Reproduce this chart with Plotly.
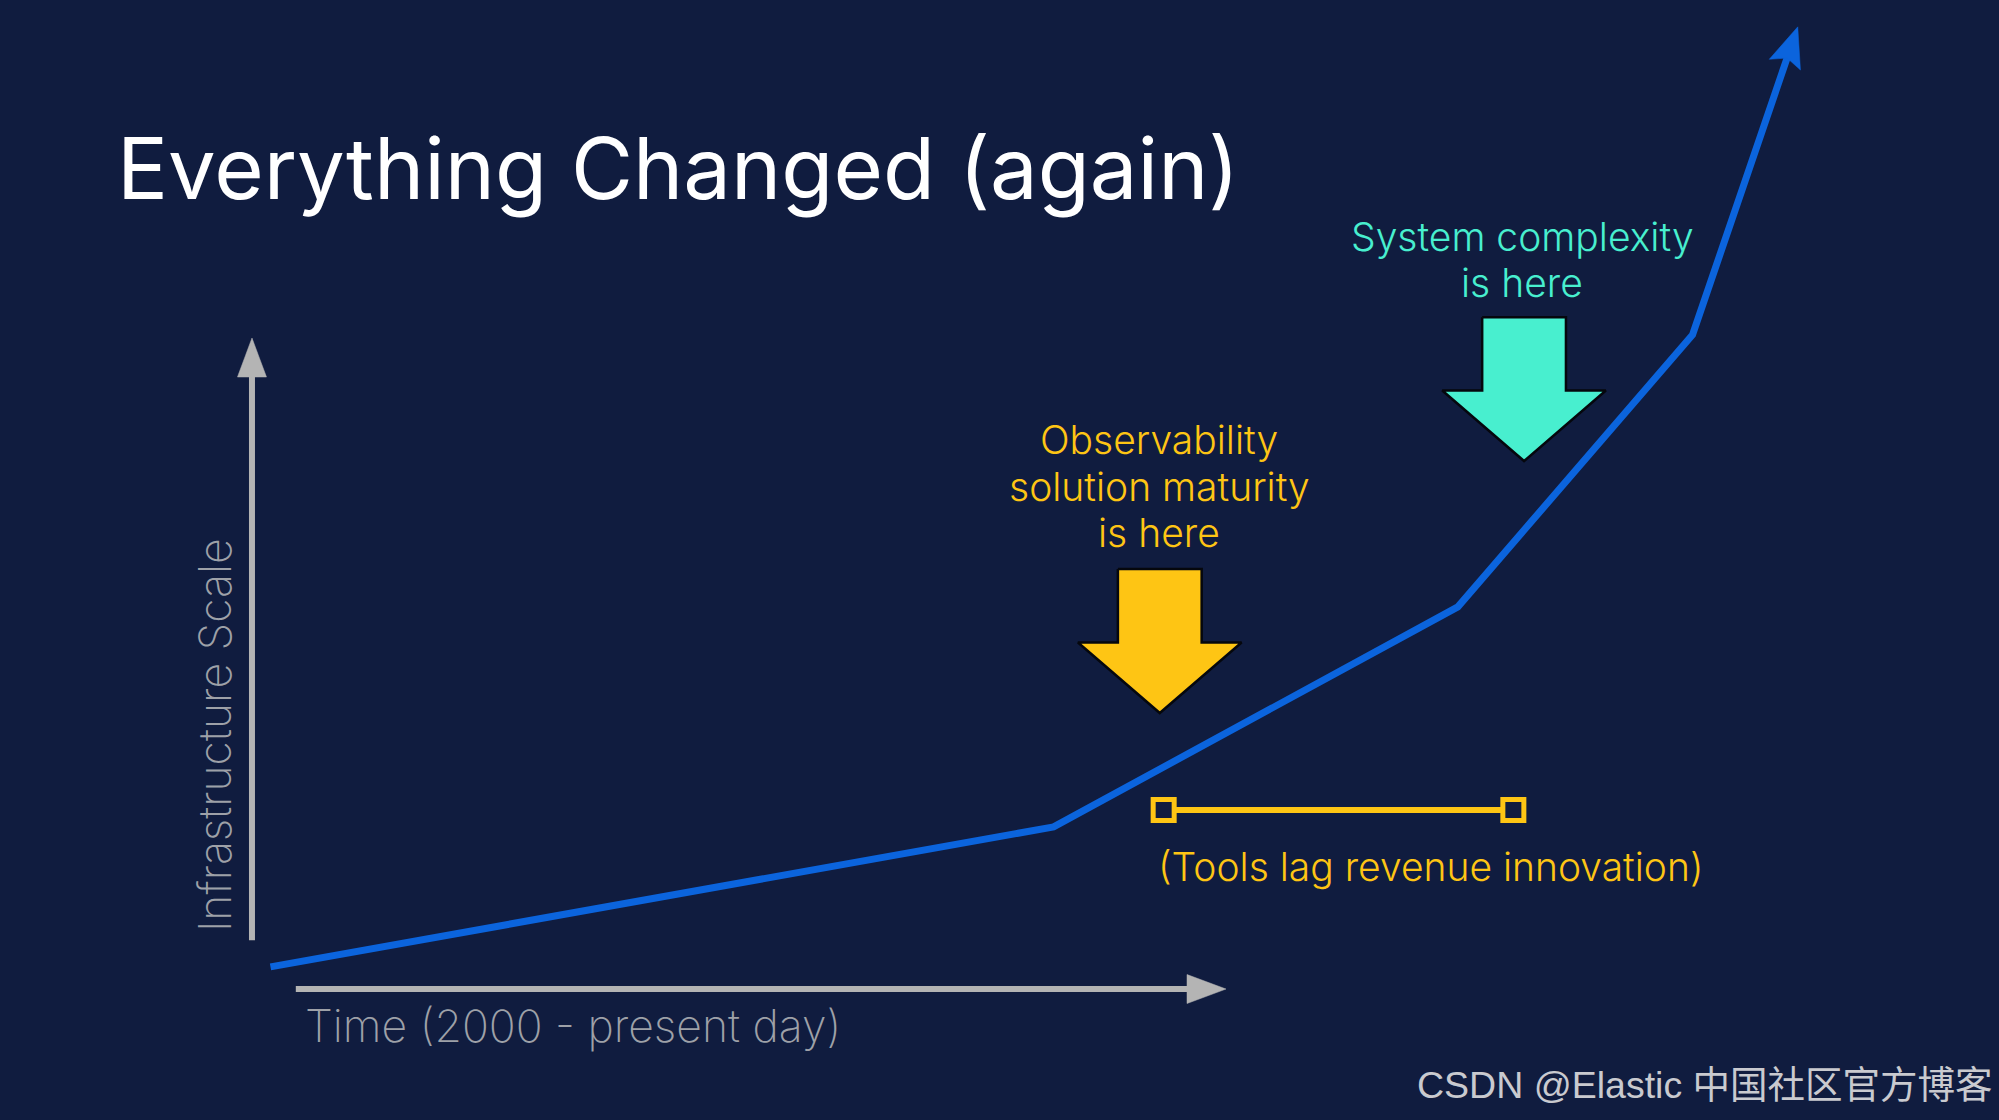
import math
import plotly.graph_objects as go

W, H = 1999, 1120
BG = "#101C3F"
BLUE = "#0B64DD"
YELLOW = "#FEC514"
TEAL = "#48EFCF"
AXIS = "#B4B4B4"
LABEL = "#9EA1A8"
WATER = "#C9CACF"
FONT = "Inter"

# ---- data (abstract units: the drawn axes run from 0 to 10) ----
time_units = [0.19, 8.23, 12.38, 14.79, 15.87]
infra_scale = [0.34, 2.49, 5.87, 10.05, 14.78]

x_axis_span = [0.45, 10.0]
y_axis_span = [0.75, 10.0]

callout_lines = [["Observability", "solution maturity", "is here"],
                 ["System complexity", "is here"]]
callout_colors = [YELLOW, TEAL]
callout_time = [9.32, 13.06]
callout_top = [6.45, 10.32]
callout_tip = [4.24, 8.11]

lag_range = [9.36, 12.95]
lag_level = 2.75
lag_text = "(Tools lag revenue innovation)"

title_text = "Everything Changed (again)"
x_label = "Time (2000 - present day)"
y_label = "Infrastructure Scale"
watermark = "CSDN @Elastic 中国社区官方博客"

X_RANGE = [-2.587, 17.936]
Y_RANGE = [-2.012, 15.192]

# pixel scale of the axes (for sizing arrowheads in screen pixels)
SX = W / (X_RANGE[1] - X_RANGE[0])
SY = H / (Y_RANGE[1] - Y_RANGE[0])


def P(xpx, ypx):
    return xpx / W, 1 - ypx / H


def arrow_head(xs, ys, length, half, notch=0.0):
    """Triangle (optionally notched) at the end of a polyline, sized in px.
    Returns head polygon (in data units) and the point where the shaft should end."""
    x1, y1, x2, y2 = xs[-2], ys[-2], xs[-1], ys[-1]
    dxp, dyp = (x2 - x1) * SX, (y2 - y1) * SY
    L = math.hypot(dxp, dyp)
    ux, uy = dxp / L, dyp / L
    nx, ny = -uy, ux
    bx, by = -ux * length, -uy * length
    pts_px = [(0, 0), (bx + nx * half, by + ny * half),
              (-ux * (length - notch), -uy * (length - notch)),
              (bx - nx * half, by - ny * half), (0, 0)]
    hx = [x2 + p[0] / SX for p in pts_px]
    hy = [y2 + p[1] / SY for p in pts_px]
    end = (x2 - ux * (length - notch - 2) / SX, y2 - uy * (length - notch - 2) / SY)
    return hx, hy, end


fig = go.Figure()


def arrow_line(xs, ys, color, width, length, half, notch=0.0):
    hx, hy, end = arrow_head(xs, ys, length, half, notch)
    fig.add_trace(go.Scatter(
        x=list(xs[:-1]) + [end[0]], y=list(ys[:-1]) + [end[1]], mode="lines",
        line=dict(color=color, width=width), hoverinfo="skip", showlegend=False))
    fig.add_trace(go.Scatter(
        x=hx, y=hy, mode="lines", fill="toself", fillcolor=color,
        line=dict(color=color, width=0.5), hoverinfo="skip", showlegend=False))


# axes arrows
arrow_line(x_axis_span, [0, 0], AXIS, 6, 39, 14.5)
arrow_line([0, 0], y_axis_span, AXIS, 6, 39, 14.5)

# callout block arrows
SH, HH, HEADF = 0.43, 0.84, 0.49
for cx, top, tip, col in zip(callout_time, callout_top, callout_tip, callout_colors):
    head = tip + HEADF * (top - tip)
    xs = [cx - SH, cx + SH, cx + SH, cx + HH, cx, cx - HH, cx - SH, cx - SH]
    ys = [top, top, head, head, tip, head, head, top]
    fig.add_trace(go.Scatter(
        x=xs, y=ys, mode="lines", fill="toself", fillcolor=col,
        line=dict(color="#05070d", width=2.5),
        hoverinfo="skip", showlegend=False))

# lag bar
fig.add_trace(go.Scatter(
    x=lag_range, y=[lag_level, lag_level], mode="lines+markers",
    line=dict(color=YELLOW, width=6),
    marker=dict(symbol="square", size=21, color=BG,
                line=dict(color=YELLOW, width=5)),
    hoverinfo="skip", showlegend=False))

# main growth line
arrow_line(time_units, infra_scale, BLUE, 7, 40, 16.5, notch=7)

ann = []
x, y = P(115, 168)
ann.append(dict(text=title_text, x=x, y=y, xanchor="left", yanchor="middle",
                font=dict(family=FONT, size=85, color="white")))
line_y = [[439, 486, 532], [236, 282]]
centers = [1159, 1522]
for lines, ys, cxp, col in zip(callout_lines, line_y, centers, callout_colors):
    for t, yp in zip(lines, ys):
        x, y = P(cxp, yp)
        ann.append(dict(text=t, x=x, y=y, xanchor="center", yanchor="middle",
                        font=dict(family=FONT, size=39, color=col, weight=300)))
x, y = P(1431, 866)
ann.append(dict(text=lag_text, x=x, y=y, xanchor="center", yanchor="middle",
                font=dict(family=FONT, size=39, color=YELLOW, weight=300)))
x, y = P(573, 1026)
ann.append(dict(text=x_label, x=x, y=y, xanchor="center", yanchor="middle",
                font=dict(family=FONT, size=44.5, color=LABEL, weight=200)))
x, y = P(215, 735)
ann.append(dict(text=y_label, x=x, y=y, xanchor="center", yanchor="middle",
                textangle=-90,
                font=dict(family=FONT, size=44.5, color=LABEL, weight=200)))
x, y = P(1705, 1085)
ann.append(dict(text=watermark, x=x, y=y, xanchor="center", yanchor="middle",
                font=dict(family="Liberation Sans, Noto Sans CJK SC", size=37.5, color=WATER)))
for a in ann:
    a.update(xref="paper", yref="paper", showarrow=False)

fig.update_layout(
    width=W, height=H, margin=dict(l=0, r=0, t=0, b=0),
    paper_bgcolor=BG, plot_bgcolor=BG,
    xaxis=dict(range=X_RANGE, visible=False, fixedrange=True),
    yaxis=dict(range=Y_RANGE, visible=False, fixedrange=True),
    annotations=ann, showlegend=False)

fig.write_html("out.html", config={"displayModeBar": False},
               post_script="document.body.style.margin='0';document.body.style.overflow='hidden';document.body.style.background='#101C3F';")
